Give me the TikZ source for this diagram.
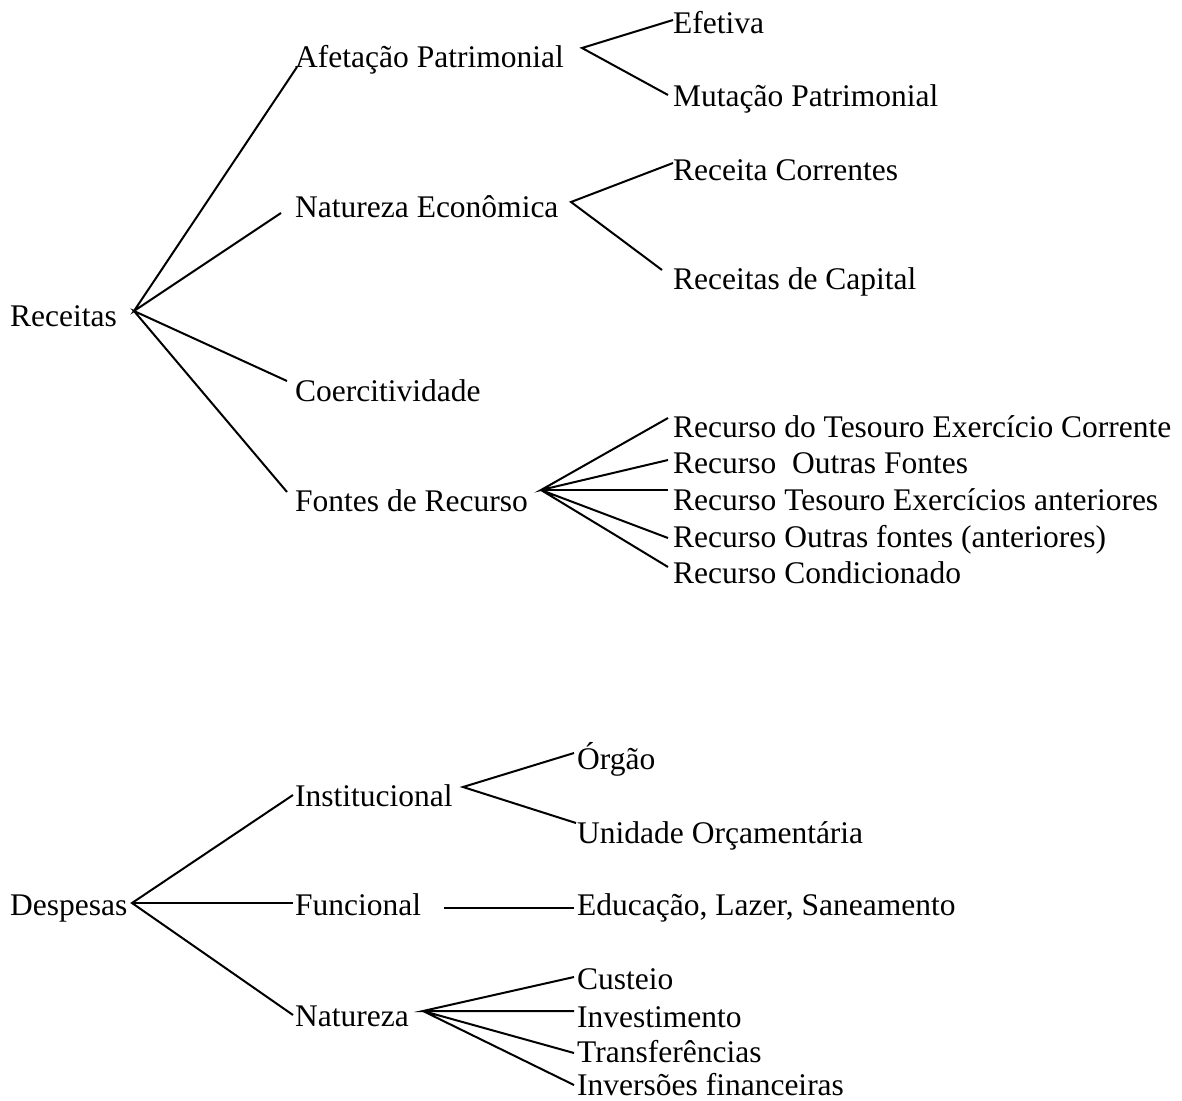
\documentclass[tikz,border=0pt]{standalone}
\usepackage{fontspec}
\setmainfont{Liberation Serif}
\begin{document}
\begin{tikzpicture}[x=1pt,y=-1pt,
  lbl/.style={anchor=base west, inner sep=0pt, font=\fontsize{31.5}{36}\selectfont},
  conn/.style={line width=2pt, line join=miter}]
\useasboundingbox (0,0) rectangle (1182,1100);
% --- Receitas ---
\node[lbl] (rec) at (10,326) {Receitas};
\node[lbl] (afet) at (295,67) {Afetação Patrimonial};
\node[lbl] (efet) at (673,33) {Efetiva};
\node[lbl] (mut) at (673,106) {Mutação Patrimonial};
\node[lbl] (natec) at (295,217) {Natureza Econômica};
\node[lbl] (rcor) at (673,180) {Receita Correntes};
\node[lbl] (rcap) at (673,289) {Receitas de Capital};
\node[lbl] (coer) at (295,401) {Coercitividade};
\node[lbl] (font) at (295,511) {Fontes de Recurso};
\node[lbl] (r1) at (673,437) {Recurso do Tesouro Exercício Corrente};
\node[lbl] (r2) at (673,473) {Recurso\ \ Outras Fontes};
\node[lbl] (r3) at (673,510) {Recurso Tesouro Exercícios anteriores};
\node[lbl] (r4) at (673,547) {Recurso Outras fontes (anteriores)};
\node[lbl] (r5) at (673,583) {Recurso Condicionado};
\coordinate (rA) at (134,311);
\coordinate (afA) at (582,48);
\coordinate (neA) at (571,202);
\coordinate (frA) at (541,490);
\draw[conn] ([shift={(2,0)}]afet.base west) -- (rA) -- ([shift={(-14,-4)}]natec.base west);
\draw[conn] ([shift={(-8,-20)}]coer.base west) -- (rA) -- ([shift={(-8,-19)}]font.base west);
\draw[conn] ([shift={(0,-13)}]efet.base west) -- (afA) -- ([shift={(-5,-11)}]mut.base west);
\draw[conn] ([shift={(0,-17)}]rcor.base west) -- (neA) -- ([shift={(-11,-19)}]rcap.base west);
\draw[conn] ([shift={(-5,-19)}]r1.base west) -- (frA) -- ([shift={(-5,-13)}]r2.base west);
\draw[conn] ([shift={(-5,-20)}]r3.base west) -- (frA);
\draw[conn] ([shift={(-5,-9)}]r4.base west) -- (frA) -- ([shift={(-5,-16)}]r5.base west);
% --- Despesas ---
\node[lbl] (desp) at (10,915) {Despesas};
\node[lbl] (inst) at (295,806) {Institucional};
\node[lbl] (orgao) at (577,769) {Órgão};
\node[lbl] (unid) at (577,843) {Unidade Orçamentária};
\node[lbl] (func) at (295,915) {Funcional};
\node[lbl] (educ) at (577,915) {Educação, Lazer, Saneamento};
\node[lbl] (nat) at (295,1026) {Natureza};
\node[lbl] (cust) at (577,989) {Custeio};
\node[lbl] (inv) at (577,1027) {Investimento};
\node[lbl] (transf) at (577,1062) {Transferências};
\node[lbl] (invf) at (577,1095) {Inversões financeiras};
\coordinate (dA) at (132,903);
\coordinate (inA) at (463,787);
\coordinate (naA) at (423,1011);
\coordinate (fS) at (444,908);
\draw[conn] ([shift={(-2,-11)}]inst.base west) -- (dA) -- ([shift={(-2,-11)}]nat.base west);
\draw[conn] (dA) -- ([shift={(-2,-12)}]func.base west);
\draw[conn] ([shift={(-3,-16)}]orgao.base west) -- (inA) -- ([shift={(-1,-20)}]unid.base west);
\draw[conn] (fS) -- ([shift={(-3,-7)}]educ.base west);
\draw[conn] ([shift={(-3,-12)}]cust.base west) -- (naA) -- ([shift={(-3,-16)}]inv.base west);
\draw[conn] ([shift={(-3,-9)}]transf.base west) -- (naA) -- ([shift={(-3,-10)}]invf.base west);
\end{tikzpicture}
\end{document}
